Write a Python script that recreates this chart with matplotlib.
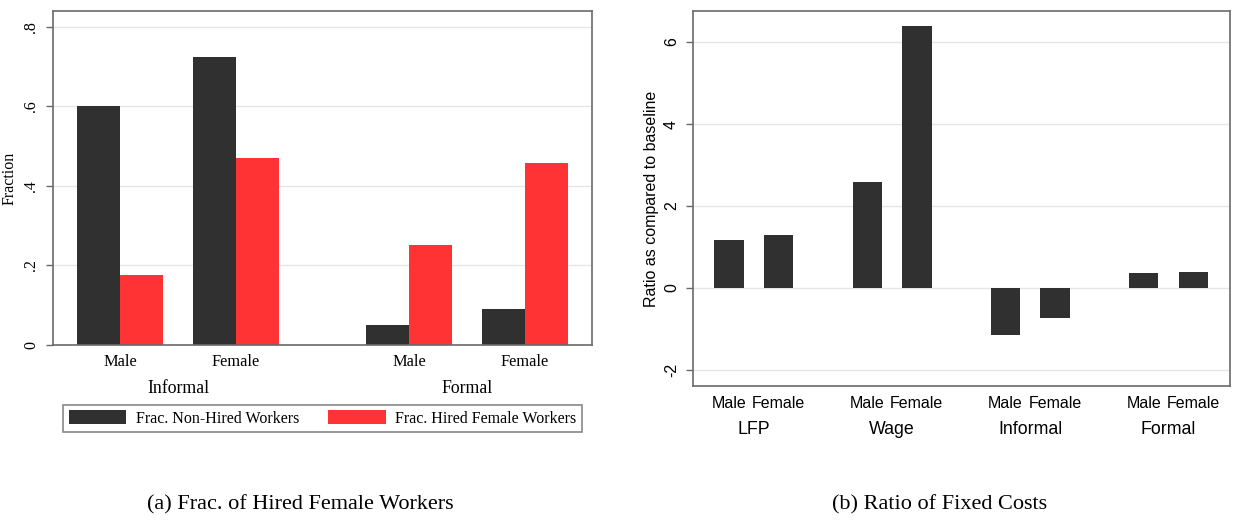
import matplotlib.pyplot as plt
import numpy as np

# panel (a): fraction of workers
groups_a = ["Informal", "Formal"]
sexes = ["Male", "Female"]
non_hired = [0.60, 0.725, 0.05, 0.09]
hired_female = [0.175, 0.47, 0.252, 0.457]
yticks_a = [0, 0.2, 0.4, 0.6, 0.8]
yticklabels_a = ["0", ".2", ".4", ".6", ".8"]

# panel (b): ratio of fixed costs
groups_b = ["LFP", "Wage", "Informal", "Formal"]
ratio_male = [1.18, 2.58, -1.15, 0.36]
ratio_female = [1.30, 6.38, -0.73, 0.38]
yticks_b = [-2, 0, 2, 4, 6]

dark = "#303030"
red = "#ff3333"
grid_c = "#e6e6e6"
spine_c = "#6a6a6a"
serif = ["Liberation Serif", "DejaVu Serif"]
sans = ["Liberation Sans", "DejaVu Sans"]

fig = plt.figure(figsize=(12.33, 5.25), dpi=100)
W, H = 1233, 525


def axes_px(x0, y0, x1, y1):
    return fig.add_axes([x0 / W, 1 - y1 / H, (x1 - x0) / W, (y1 - y0) / H])


def style_axes(ax):
    for s in ax.spines.values():
        s.set_color(spine_c)
        s.set_linewidth(1.2)
    ax.set_axisbelow(True)
    ax.yaxis.grid(True, color=grid_c, lw=1.0)
    ax.tick_params(axis="y", direction="out", length=5, width=1, color=spine_c,
                   labelrotation=90, pad=5)
    ax.tick_params(axis="x", length=0)
    ax.set_xticks([])


# ---- panel (a)
ax1 = axes_px(53, 11, 592, 345)
style_axes(ax1)
pos = np.array([0, 1, 2.5, 3.5])
w = 0.372
ax1.bar(pos - w / 2, non_hired, w, color=dark, label="Frac. Non-Hired Workers")
ax1.bar(pos + w / 2, hired_female, w, color=red, label="Frac. Hired Female Workers")
ax1.set_xlim(-0.582, 4.082)
ax1.set_ylim(0, 0.84)
ax1.set_yticks(yticks_a)
ax1.set_yticklabels(yticklabels_a, family=serif, fontsize=11.5, va="center")
ax1.set_ylabel("Fraction", family=serif, fontsize=11.5, labelpad=4)
for i, p in enumerate(pos):
    ax1.annotate(sexes[i % 2], (p, 0), xycoords=("data", "axes fraction"),
                 xytext=(0, -12.5), textcoords="offset points", ha="center",
                 va="center", family=serif, fontsize=11.8)
for g, c in zip(groups_a, [0.5, 3.0]):
    ax1.annotate(g, (c, 0), xycoords=("data", "axes fraction"),
                 xytext=(0, -31.5), textcoords="offset points", ha="center",
                 va="center", family=serif, fontsize=12.8)
leg = fig.legend(loc="center", bbox_to_anchor=(63 / W, 1 - 433 / H, 519 / W, 29 / H),
                 mode="expand", ncol=2, prop={"family": serif, "size": 11.5},
                 handlelength=3.6, handleheight=0.9, handletextpad=0.6,
                 borderpad=0.35, fancybox=False, borderaxespad=0)
leg.get_frame().set_edgecolor(spine_c)
leg.get_frame().set_linewidth(1.2)

# ---- panel (b)
ax2 = axes_px(693, 11, 1230, 386)
style_axes(ax2)
gpos = np.arange(len(groups_b))
off, bw = 0.179, 0.213
ax2.bar(gpos - off, ratio_male, bw, color=dark)
ax2.bar(gpos + off, ratio_female, bw, color=dark)
ax2.set_xlim(-0.44, 3.445)
ax2.set_ylim(-2.39, 6.756)
ax2.set_yticks(yticks_b)
ax2.set_yticklabels([str(t) for t in yticks_b], family=sans, fontsize=11.5, va="center")
ax2.set_ylabel("Ratio as compared to baseline", family=sans, fontsize=11.5, labelpad=4)
for gp, g in zip(gpos, groups_b):
    for dx, s in zip([-off, off], sexes):
        ax2.annotate(s, (gp + dx, 0), xycoords=("data", "axes fraction"),
                     xytext=(0, -12.5), textcoords="offset points", ha="center",
                     va="center", family=sans, fontsize=11.5)
    ax2.annotate(g, (gp, 0), xycoords=("data", "axes fraction"),
                 xytext=(0, -31), textcoords="offset points", ha="center",
                 va="center", family=sans, fontsize=12.8)

# captions
fig.text(300 / W, 1 - 505 / H, "(a) Frac. of Hired Female Workers", ha="center",
         va="center", family=serif, fontsize=16)
fig.text(940 / W, 1 - 505 / H, "(b) Ratio of Fixed Costs", ha="center",
         va="center", family=serif, fontsize=16)

fig.savefig("out.png", dpi=100, facecolor="white")
